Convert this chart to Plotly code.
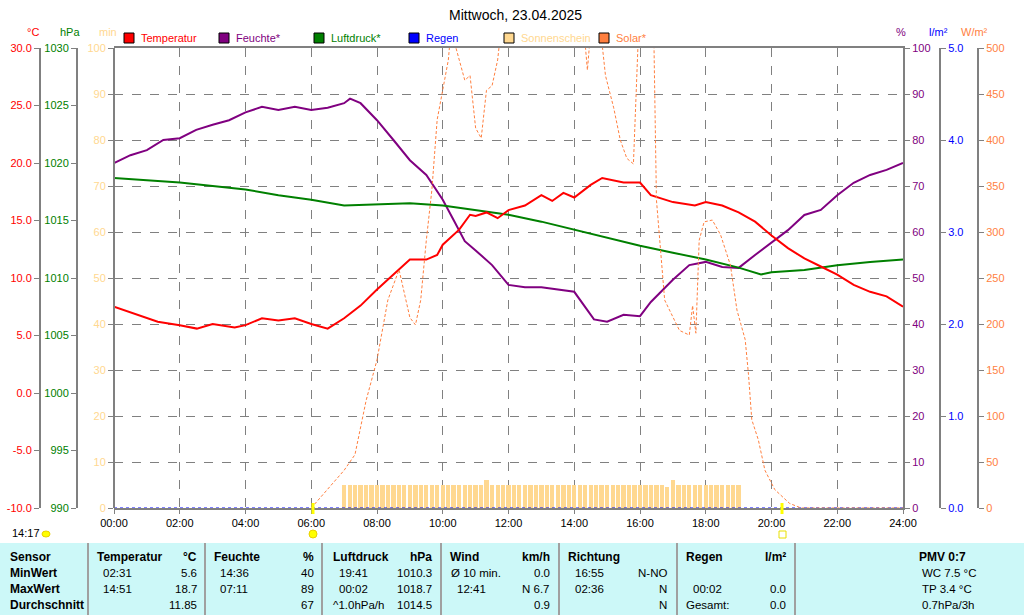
import plotly.graph_objects as go

# ---------------- data ----------------
temp_t = [0,0.5,1,1.33,2,2.52,3,3.67,4,4.5,5,5.5,6,6.5,7,7.5,8,8.5,9,9.5,9.83,10,10.5,10.83,11,11.33,11.67,12,12.5,13,13.33,13.67,14,14.5,14.85,15.5,16,16.33,17,17.67,18,18.5,19,19.5,20,20.5,21,21.5,22,22.5,23,23.5,24]
temp_v = [7.5,7.0,6.5,6.2,5.9,5.6,6.0,5.7,5.9,6.5,6.3,6.5,6.0,5.6,6.5,7.6,9.0,10.3,11.6,11.6,12.0,12.9,14.2,15.5,15.4,15.7,15.2,15.9,16.3,17.2,16.7,17.4,17.0,18.1,18.7,18.3,18.3,17.2,16.6,16.3,16.6,16.3,15.7,14.9,13.7,12.6,11.7,11.0,10.3,9.4,8.8,8.4,7.5]

hum_t = [0,0.5,1,1.5,2,2.5,3,3.5,4,4.5,5,5.5,6,6.5,7,7.18,7.5,8,8.5,9,9.5,10,10.33,10.67,11,11.5,12,12.5,13,13.67,14,14.6,15,15.5,16,16.33,17,17.5,18,18.5,19,19.5,20,20.5,21,21.5,22,22.5,23,23.5,24]
hum_v = [75,76.7,77.8,80,80.4,82.2,83.3,84.3,86,87.2,86.5,87.2,86.5,87,88,89,88,84.3,80,75.6,72.4,67,62.6,58,56,52.8,48.5,48,48,47.4,47,41,40.5,42,41.7,44.8,49.6,52.8,53.5,52.4,52.2,55,57.6,60.4,63.7,64.8,68,70.7,72.4,73.5,75]

pres_t = [0,1,2,3,4,5,6,7,8,9,10,11,12,13,14,15,16,17,18,19,19.68,20,21,22,23,24]
pres_v = [1018.7,1018.5,1018.3,1018.0,1017.7,1017.2,1016.8,1016.3,1016.4,1016.5,1016.3,1015.9,1015.5,1014.9,1014.2,1013.5,1012.8,1012.2,1011.6,1010.9,1010.3,1010.5,1010.7,1011.1,1011.4,1011.6]

solar_t = [6.0,6.5,7.0,7.33,7.67,8.0,8.33,8.67,9.0,9.17,9.33,9.5,9.67,9.83,10.0,10.17,10.25,10.5,10.67,10.83,11.0,11.17,11.33,11.5,11.67,11.83,12.5,13.5,14.2,14.4,14.55,14.8,14.95,15.2,15.4,15.6,15.8,16.0,16.4,16.5,16.75,17.2,17.5,17.6,17.7,17.8,17.95,18.2,18.45,18.75,18.95,19.2,19.3,19.4,19.6,19.8,20.1,20.55,20.9,24.0]
solar_v = [0,20,41,58,117,161,226,259,207,199,226,291,346,422,454,487,520,487,465,470,413,402,454,459,487,540,600,600,560,476,540,520,470,435,400,380,374,560,560,335,226,193,188,220,190,291,311,313,297,264,215,183,145,96,74,41,20,5,0,0]

sun_t = [7.0,7.17,7.33,7.5,7.67,7.83,8.0,8.17,8.33,8.5,8.67,8.83,9.0,9.17,9.33,9.5,9.67,9.83,10.0,10.17,10.33,10.5,10.67,10.83,11.0,11.17,11.33,11.5,11.67,11.83,12.0,12.17,12.33,12.5,12.67,12.83,13.0,13.17,13.33,13.5,13.67,13.83,14.0,14.17,14.33,14.5,14.67,14.83,15.0,15.17,15.33,15.5,15.67,15.83,16.0,16.17,16.33,16.5,16.67,16.83,17.0,17.17,17.33,17.5,17.67,17.83,18.0,18.17,18.33,18.5,18.67,18.83,19.0]
sun_v = [5,5,5,5,5,5,5,5,5,5,5,5,5,5,5,5,5,5,5,5,5,5,5,5,5,5,6,5,5,5,5,5,5,5,5,5,5,5,5,5,5,5,5,5,5,5,5,5,5,5,5,5,5,5,5,5,5,5,5,4.5,6,5,5,5,5,5,5,5,5,5,5,5,5]

rain_t = [0, 24]
rain_v = [0, 0]

x_ticks = [0,2,4,6,8,10,12,14,16,18,20,22,24]
x_labels = ["00:00","02:00","04:00","06:00","08:00","10:00","12:00","14:00","16:00","18:00","20:00","22:00","24:00"]
temp_ticks = [-10,-5,0,5,10,15,20,25,30]
temp_labels = ["-10.0","-5.0","0.0","5.0","10.0","15.0","20.0","25.0","30.0"]

table_rows = [
    ["Sensor", "MinWert", "MaxWert", "Durchschnitt"],
]
tbl_left = [  # (x, y-row, text, bold)
    (95,0,"Temperatur",1),(212,0,"Feuchte",1),(331,0,"Luftdruck",1),(448,0,"Wind",1),(566,0,"Richtung",1),(684,0,"Regen",1),
    (101,1,"02:31",0),(218,1,"14:36",0),(337,1,"19:41",0),(449,1,"Ø 10 min.",0),(573,1,"16:55",0),
    (101,2,"14:51",0),(218,2,"07:11",0),(337,2,"00:02",0),(455,2,"12:41",0),(573,2,"02:36",0),(691,2,"00:02",0),
    (331,3,"^1.0hPa/h",0),(684,3,"Gesamt:",0),
    (920,1,"WC 7.5 °C",0),(920,2,"TP 3.4 °C",0),(920,3,"0.7hPa/3h",0),
]
tbl_right = [
    (199,0,"°C",1),(316,0,"%",1),(434,0,"hPa",1),(552,0,"km/h",1),(788,0,"l/m²",1),(968,0,"PMV 0:7",1),
    (199,1,"5.6",0),(316,1,"40",0),(434,1,"1010.3",0),(552,1,"0.0",0),(669,1,"N-NO",0),
    (199,2,"18.7",0),(316,2,"89",0),(434,2,"1018.7",0),(552,2,"N 6.7",0),(669,2,"N",0),(788,2,"0.0",0),
    (199,3,"11.85",0),(316,3,"67",0),(434,3,"1014.5",0),(552,3,"0.9",0),(669,3,"N",0),(788,3,"0.0",0),
]

# ---------------- layout helpers ----------------
W, H = 1024, 615
TOP, BOT = 48, 508
def px(x): return x / W
def py(y): return (BOT - y) / (BOT - TOP)

C_T, C_H, C_P, C_R, C_S, C_SOL = "#FF0000", "#800080", "#008000", "#0000FF", "#FFD890", "#FF7F3F"
FONT = "Liberation Sans, Arial, sans-serif"

fig = go.Figure()
fig.add_trace(go.Bar(x=sun_t, y=sun_v, width=0.13, marker=dict(color=C_S, line=dict(width=0)), yaxis="y3", showlegend=False))
fig.add_trace(go.Scatter(x=solar_t, y=solar_v, mode="lines", line=dict(color=C_SOL, width=1, dash="3px,2px"), yaxis="y6", showlegend=False))
fig.add_trace(go.Scatter(x=rain_t, y=rain_v, mode="lines", line=dict(color=C_R, width=1, dash="dot"), yaxis="y5", showlegend=False, cliponaxis=False))
fig.add_trace(go.Scatter(x=pres_t, y=pres_v, mode="lines", line=dict(color=C_P, width=2), yaxis="y2", showlegend=False))
fig.add_trace(go.Scatter(x=hum_t, y=hum_v, mode="lines", line=dict(color=C_H, width=2), yaxis="y", showlegend=False))
fig.add_trace(go.Scatter(x=temp_t, y=temp_v, mode="lines", line=dict(color=C_T, width=2), yaxis="y4", showlegend=False))

tf = lambda c: dict(family=FONT, size=11, color=c)
common = dict(ticks="outside", ticklen=5, tickcolor="#808080", showline=True, linecolor="#808080", linewidth=2,
              showgrid=False, zeroline=False, fixedrange=True, automargin=False)

fig.update_layout(
    width=W, height=H, autosize=False, margin=dict(l=0, r=0, t=TOP, b=H - BOT, pad=0),
    paper_bgcolor="white", plot_bgcolor="white", bargap=0,
    font=dict(family=FONT, size=11, color="black"),
    xaxis=dict(domain=[px(114), px(903)], range=[0, 24], tickvals=x_ticks, ticktext=x_labels,
               showgrid=True, gridcolor="#808080", griddash="dash", gridwidth=1, automargin=False,
               showline=True, mirror=True, linecolor="#808080", linewidth=2, ticks="outside", ticklen=4,
               tickcolor="#808080", tickfont=tf("black"), zeroline=False),
    yaxis=dict(range=[0, 100], side="right", anchor="x", tickvals=list(range(0, 101, 10)), tickfont=tf(C_H),
               **{**common, "showgrid": True, "gridcolor": "#808080", "griddash": "dash"}),
    yaxis2=dict(range=[990, 1030], overlaying="y", anchor="free", position=px(77), side="left",
                tickvals=list(range(990, 1031, 5)), tickfont=tf(C_P), **common),
    yaxis3=dict(range=[0, 100], overlaying="y", anchor="free", position=px(114), side="left",
                tickvals=list(range(0, 101, 10)), tickfont=tf(C_S), **common),
    yaxis4=dict(range=[-10, 30], overlaying="y", anchor="free", position=px(40), side="left",
                tickvals=temp_ticks, ticktext=temp_labels, tickfont=tf(C_T), **common),
    yaxis5=dict(range=[0, 5], overlaying="y", anchor="free", position=px(940), side="right",
                tickvals=[0, 1, 2, 3, 4, 5], tickformat=".1f", tickfont=tf(C_R), **common),
    yaxis6=dict(range=[0, 500], overlaying="y", anchor="free", position=px(978), side="right",
                tickvals=list(range(0, 501, 50)), tickfont=tf(C_SOL), **common),
)

ann = []
shapes = []
ann.append(dict(x=px(515), y=py(15), text="Mittwoch, 23.04.2025", font=dict(family=FONT, size=14, color="black")))
for x, t, c in [(25, "°C", C_T), (58, "hPa", C_P), (97, "min", C_S), (908, "%", C_H), (950, "l/m²", C_R), (990, "W/m²", C_SOL)]:
    ann.append(dict(x=px(x), y=py(32), text=t, font=tf(c)))
legend = [("Temperatur", C_T, C_T), ("Feuchte*", C_H, C_H), ("Luftdruck*", C_P, C_P), ("Regen", C_R, C_R), ("Sonnenschein", C_S, C_S), ("Solar*", C_SOL, C_SOL)]
for i, (t, c, tc) in enumerate(legend):
    x0 = 124 + 95 * i
    shapes.append(dict(type="rect", xref="paper", yref="paper", x0=px(x0), x1=px(x0 + 10), y0=py(43), y1=py(33), fillcolor=c, line=dict(color="black", width=1)))
    ann.append(dict(x=px(x0 + 15), y=py(38), text=t, xanchor="left", font=tf(tc)))

# sunrise / sunset marks
for x in (313, 782):
    shapes.append(dict(type="line", xref="paper", yref="paper", x0=px(x), x1=px(x), y0=py(503), y1=py(514), line=dict(color="#FFFF00", width=3)))
shapes.append(dict(type="circle", xref="paper", yref="paper", x0=px(309), x1=px(317), y0=py(538), y1=py(530), fillcolor="#FFFF00", line=dict(color="#E8D000", width=1)))
shapes.append(dict(type="rect", xref="paper", yref="paper", x0=px(779), x1=px(786), y0=py(538), y1=py(531), line=dict(color="#E8E000", width=1)))
shapes.append(dict(type="circle", xref="paper", yref="paper", x0=px(42), x1=px(50), y0=py(537), y1=py(531), fillcolor="#FFFF00", line=dict(color="#E8D000", width=1)))
ann.append(dict(x=px(10), y=py(533), text="14:17", xanchor="left", font=tf("black")))

# table
shapes.append(dict(type="rect", xref="paper", yref="paper", x0=0, x1=1, y0=py(543), y1=py(615), fillcolor="#CCF8F8", line=dict(width=0), layer="below"))
for x in (88, 205, 322, 441, 559, 677, 795):
    shapes.append(dict(type="line", xref="paper", yref="paper", x0=px(x), x1=px(x), y0=py(543), y1=py(615), line=dict(color="#A0A0A0", width=2)))
rows_y = [557, 573, 589, 605]
for j, t in enumerate(table_rows[0]):
    ann.append(dict(x=px(8), y=py(rows_y[j]), text="<b>%s</b>" % t, xanchor="left", font=dict(family=FONT, size=12, color="black")))
for x, r, t, b in tbl_left:
    ann.append(dict(x=px(x), y=py(rows_y[r]), text=("<b>%s</b>" % t) if b else t, xanchor="left", font=dict(family=FONT, size=12 if b else 11.5, color="black")))
for x, r, t, b in tbl_right:
    ann.append(dict(x=px(x), y=py(rows_y[r]), text=("<b>%s</b>" % t) if b else t, xanchor="right", font=dict(family=FONT, size=12 if b else 11.5, color="black")))

for a in ann:
    a.setdefault("xref", "paper"); a.setdefault("yref", "paper"); a.setdefault("showarrow", False); a.setdefault("yanchor", "middle")
fig.update_layout(annotations=ann, shapes=shapes)
fig.write_html("out.html", config={"displayModeBar": False, "responsive": False},
               post_script="document.body.style.margin='0';document.body.style.overflow='hidden';")
